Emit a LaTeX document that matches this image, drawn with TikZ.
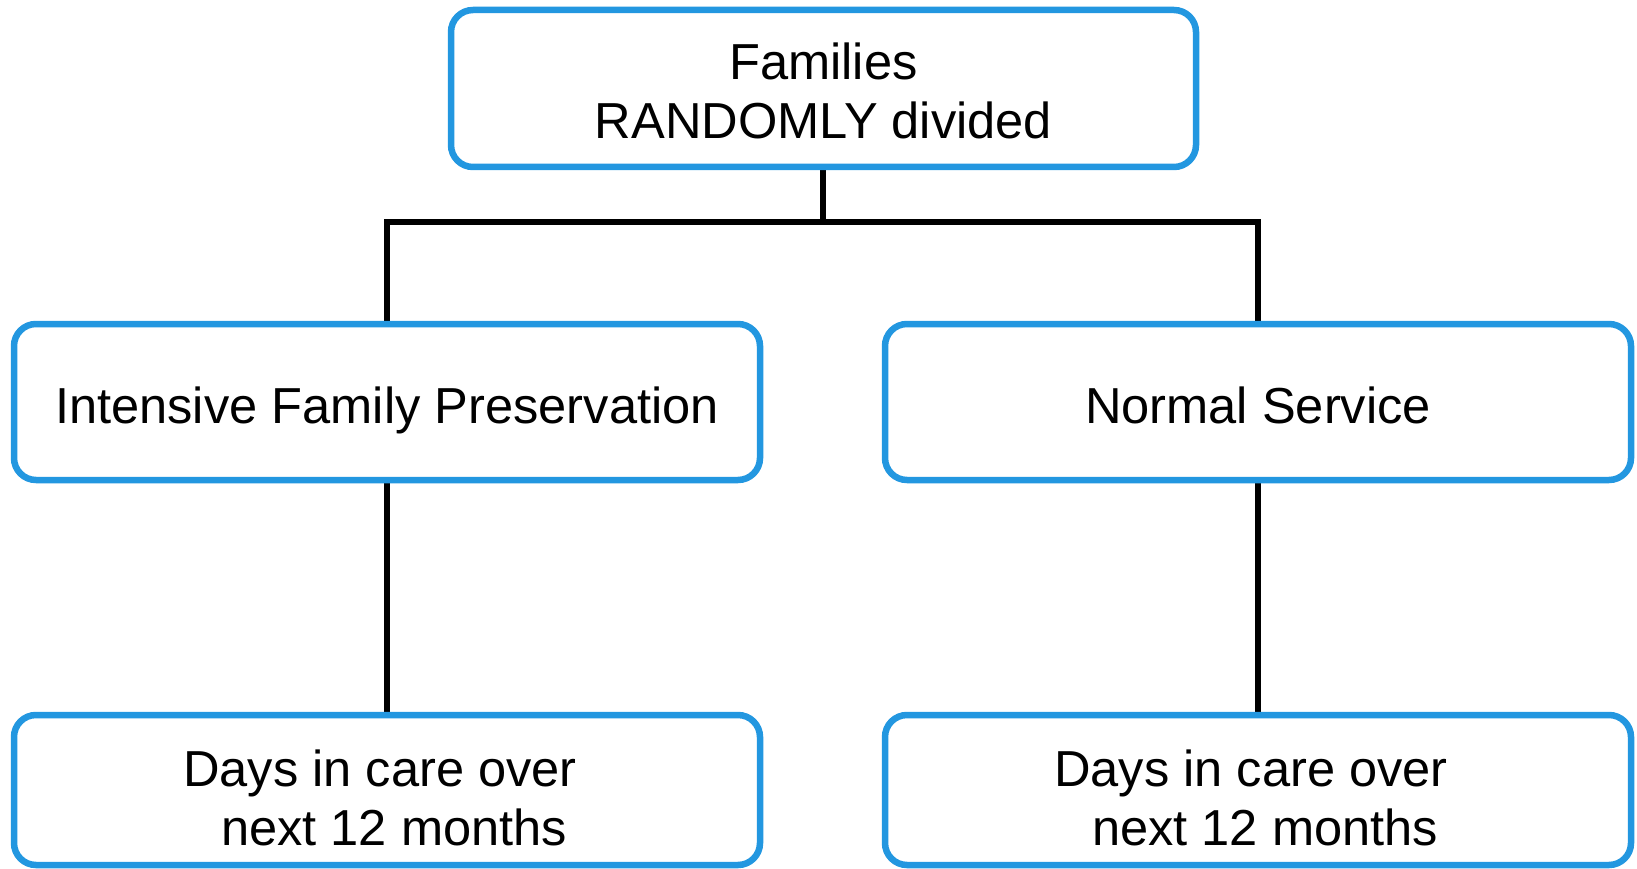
\documentclass[tikz,border=0pt]{standalone}
\usepackage{fontspec}
\setmainfont{Liberation Sans}
\usetikzlibrary{backgrounds}
\definecolor{boxblue}{HTML}{2397E0}
\newcommand\lowertext[2]{\raisebox{-#1}[\height][\depth]{\begin{tabular}{@{}c@{}}#2\end{tabular}}}
\begin{document}
\begin{tikzpicture}[x=1pt,y=-1pt,
  card/.style={draw=boxblue, line width=6.5pt, rounded corners=22pt, fill=white,
    inner sep=0pt, minimum width=746pt,
    font=\fontsize{50.6}{59}\selectfont},
  link/.style={draw=black, line width=6.5pt, line join=miter}]
\useasboundingbox (0,0) rectangle (1637,869);
\node[card, minimum width=745pt, minimum height=157pt] (top) at (823.5,88.5) {\lowertext{8.4pt}{Families\\RANDOMLY divided}};
\node[card, minimum height=156pt] (ifp) at (387,402) {\lowertext{9.5pt}{Intensive Family Preservation}};
\node[card, minimum height=156pt] (ns) at (1258,402) {\lowertext{9.5pt}{Normal Service}};
\node[card, minimum height=150pt] (d1) at (387,790) {\lowertext{14pt}{Days in care over\hspace*{0.278em}\\\hspace*{0.278em}next 12 months}};
\node[card, minimum height=150pt] (d2) at (1258,790) {\lowertext{14pt}{Days in care over\hspace*{0.278em}\\\hspace*{0.278em}next 12 months}};
\coordinate (j) at (823,222);
\begin{pgfonlayer}{background}
\draw[link] (top.south -| j) -- (j);
\draw[link] (ifp.north) |- (j) -| (ns.north);
\draw[link] (ifp.south) -- (d1.north);
\draw[link] (ns.south) -- (d2.north);
\end{pgfonlayer}
\end{tikzpicture}
\end{document}
